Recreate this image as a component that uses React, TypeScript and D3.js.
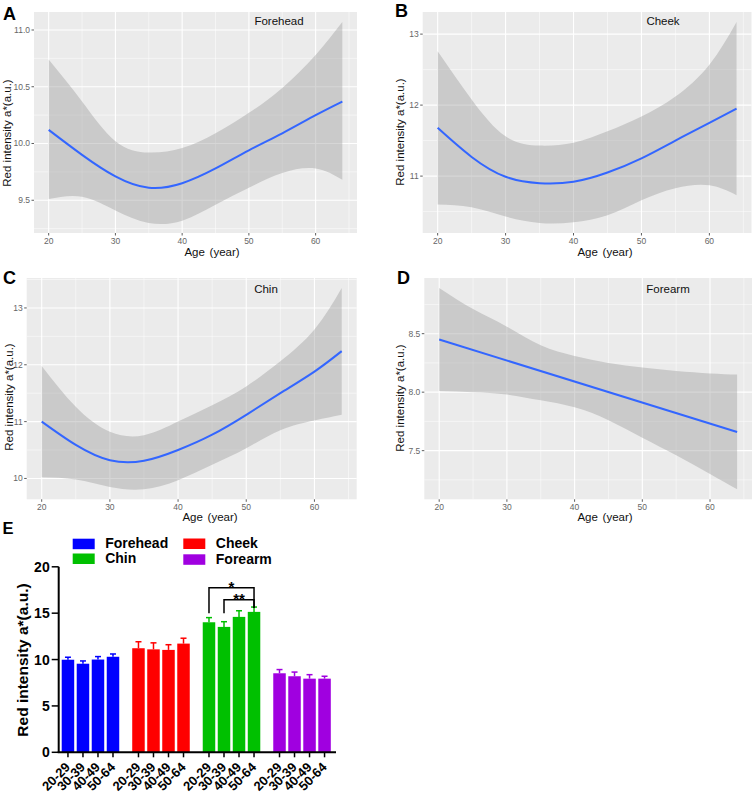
import * as d3 from "d3";

// ---- panels A-D: loess fit + 95% band ----
const AGES = [20, 25, 30, 35, 40, 45, 50, 55, 60, 64];
const X_TICKS = [20, 30, 40, 50, 60];

const FOREHEAD_FIT = [10.12, 9.9, 9.71, 9.61, 9.65, 9.78, 9.94, 10.09, 10.25, 10.37];
const FOREHEAD_LOW = [9.51, 9.53, 9.41, 9.3, 9.32, 9.46, 9.61, 9.74, 9.78, 9.68];
const FOREHEAD_HIGH = [10.74, 10.37, 10.02, 9.92, 9.96, 10.09, 10.27, 10.49, 10.78, 11.07];

const CHEEK_FIT = [11.68, 11.27, 10.99, 10.9, 10.92, 11.05, 11.25, 11.5, 11.75, 11.95];
const CHEEK_LOW = [10.6, 10.56, 10.43, 10.34, 10.35, 10.45, 10.66, 10.83, 10.87, 10.73];
const CHEEK_HIGH = [12.76, 12.08, 11.56, 11.43, 11.47, 11.63, 11.84, 12.12, 12.57, 13.17];

const CHIN_FIT = [11.0, 10.59, 10.32, 10.31, 10.5, 10.77, 11.12, 11.5, 11.88, 12.24];
const CHIN_LOW = [10.02, 9.98, 9.85, 9.81, 9.97, 10.24, 10.53, 10.85, 11.02, 11.12];
const CHIN_HIGH = [11.98, 11.26, 10.82, 10.76, 11.0, 11.29, 11.62, 12.06, 12.62, 13.35];

const FOREARM_FIT_AGES = [20, 64];
const FOREARM_FIT = [8.45, 7.66];
const FOREARM_LOW = [8.01, 8.0, 7.98, 7.93, 7.87, 7.76, 7.61, 7.46, 7.3, 7.17];
const FOREARM_HIGH = [8.89, 8.71, 8.56, 8.4, 8.31, 8.25, 8.21, 8.18, 8.16, 8.15];

// ---- panel E: mean + SEM by site and age group ----
const SITES = ["Forehead", "Cheek", "Chin", "Forearm"];
const AGE_GROUPS = ["20-29", "30-39", "40-49", "50-64"];
const FOREHEAD_MEAN = [9.98, 9.55, 10.0, 10.3];
const FOREHEAD_SEM = [0.27, 0.3, 0.32, 0.3];
const CHEEK_MEAN = [11.22, 11.1, 11.04, 11.72];
const CHEEK_SEM = [0.7, 0.7, 0.56, 0.58];
const CHIN_MEAN = [14.02, 13.52, 14.6, 15.14];
const CHIN_SEM = [0.5, 0.56, 0.66, 0.52];
const FOREARM_MEAN = [8.52, 8.2, 7.94, 7.94];
const FOREARM_SEM = [0.4, 0.45, 0.43, 0.26];
const E_TICKS = [0, 5, 10, 15, 20];

const SITE_COLORS = ["#0000ff", "#ff0000", "#00c000", "#a000e0"];
const FONT = "'Liberation Sans', Arial, sans-serif";

const SMOOTHS = [
  { letter: "A", name: "Forehead", fitAges: AGES, fit: FOREHEAD_FIT, low: FOREHEAD_LOW, high: FOREHEAD_HIGH, yTicks: [9.5, 10, 10.5, 11], fmt: ".1f",
    box: { left: 34, right: 357, top: 12, bottom: 233 }, letterPos: [3, 20], namePos: [279, 25], xTitle: [212, 255.5], yTitle: [7, 133] },
  { letter: "B", name: "Cheek", fitAges: AGES, fit: CHEEK_FIT, low: CHEEK_LOW, high: CHEEK_HIGH, yTicks: [11, 12, 13], fmt: "d",
    box: { left: 422.7, right: 751.5, top: 12, bottom: 233 }, letterPos: [395, 17], namePos: [663, 25], xTitle: [605, 255.5], yTitle: [400, 132] },
  { letter: "C", name: "Chin", fitAges: AGES, fit: CHIN_FIT, low: CHIN_LOW, high: CHIN_HIGH, yTicks: [10, 11, 12, 13], fmt: "d",
    box: { left: 26.7, right: 356.7, top: 278, bottom: 499.3 }, letterPos: [3, 284], namePos: [266, 293], xTitle: [210, 520.5], yTitle: [8.5, 397] },
  { letter: "D", name: "Forearm", fitAges: FOREARM_FIT_AGES, fit: FOREARM_FIT, low: FOREARM_LOW, high: FOREARM_HIGH, yTicks: [7.5, 8, 8.5], fmt: ".1f",
    box: { left: 424.3, right: 752, top: 278, bottom: 499.3 }, letterPos: [397, 284], namePos: [668, 293], xTitle: [605, 520.5], yTitle: [400, 398] },
];

const BARS = [
  { mean: FOREHEAD_MEAN, sem: FOREHEAD_SEM },
  { mean: CHEEK_MEAN, sem: CHEEK_SEM },
  { mean: CHIN_MEAN, sem: CHIN_SEM },
  { mean: FOREARM_MEAN, sem: FOREARM_SEM },
];

// ggplot-style 5% expansion
const expand = ([a, b]: number[]) => {
  const pad = (b - a) * 0.05;
  return [a - pad, b + pad];
};

function SmoothPanel({ p }: { p: any }) {
  const { left, right, top, bottom } = p.box;
  const x = d3.scaleLinear().domain(expand(d3.extent(AGES) as number[])).range([left, right]);
  const yDom = expand([d3.min(p.low) as number, d3.max(p.high) as number]);
  const y = d3.scaleLinear().domain(yDom).range([bottom, top]);

  const xStep = X_TICKS[1] - X_TICKS[0];
  const xMinor = [...X_TICKS.map((t) => t + xStep / 2), X_TICKS[0] - xStep / 2].filter(
    (v) => v >= x.domain()[0] && v <= x.domain()[1]
  );
  const yStep = p.yTicks[1] - p.yTicks[0];
  const yMinor = [p.yTicks[0] - yStep / 2, ...p.yTicks.map((t: number) => t + yStep / 2)].filter(
    (v) => v >= yDom[0] && v <= yDom[1]
  );

  const band = d3
    .area<number>()
    .x((_, i) => x(AGES[i]))
    .y0((_, i) => y(p.low[i]))
    .y1((_, i) => y(p.high[i]))
    .curve(d3.curveNatural);
  const line = d3
    .line<number>()
    .x((_, i) => x(p.fitAges[i]))
    .y((d) => y(d))
    .curve(d3.curveNatural);
  const fmt = d3.format(p.fmt);

  return (
    <g fontFamily={FONT}>
      <rect x={left} y={top} width={right - left} height={bottom - top} fill="#ebebeb" />
      {xMinor.map((v) => (
        <line key={"xm" + v} x1={x(v)} x2={x(v)} y1={top} y2={bottom} stroke="#fff" strokeWidth={0.5} />
      ))}
      {yMinor.map((v) => (
        <line key={"ym" + v} x1={left} x2={right} y1={y(v)} y2={y(v)} stroke="#fff" strokeWidth={0.5} />
      ))}
      {X_TICKS.map((v) => (
        <line key={"xg" + v} x1={x(v)} x2={x(v)} y1={top} y2={bottom} stroke="#fff" strokeWidth={1.1} />
      ))}
      {p.yTicks.map((v: number) => (
        <line key={"yg" + v} x1={left} x2={right} y1={y(v)} y2={y(v)} stroke="#fff" strokeWidth={1.1} />
      ))}
      <path d={band(AGES) ?? ""} fill="#999999" fillOpacity={0.4} />
      <path d={line(p.fit) ?? ""} fill="none" stroke="#3366ff" strokeWidth={2} />

      {X_TICKS.map((v) => (
        <g key={"xt" + v}>
          <line x1={x(v)} x2={x(v)} y1={bottom} y2={bottom + 2.5} stroke="#333" strokeWidth={0.8} />
          <text x={x(v)} y={bottom + 10.7} fontSize={8.5} fill="#666" textAnchor="middle">
            {v}
          </text>
        </g>
      ))}
      {p.yTicks.map((v: number) => (
        <g key={"yt" + v}>
          <line x1={left - 2.5} x2={left} y1={y(v)} y2={y(v)} stroke="#333" strokeWidth={0.8} />
          <text x={left - 4} y={y(v)} dy="0.35em" fontSize={8.5} fill="#666" textAnchor="end">
            {fmt(v)}
          </text>
        </g>
      ))}
      <text x={p.namePos[0]} y={p.namePos[1]} fontSize={11.5} textAnchor="middle" fill="#111">
        {p.name}
      </text>
      <text x={p.xTitle[0]} y={p.xTitle[1]} fontSize={11.5} textAnchor="middle" fill="#111" wordSpacing={1.5}>
        Age (year)
      </text>
      <text
        transform={`translate(${p.yTitle[0]},${p.yTitle[1]}) rotate(-90)`}
        fontSize={11.5}
        textAnchor="middle"
        dominantBaseline="central"
        fill="#111"
      >
        Red intensity a*(a.u.)
      </text>
      <text x={p.letterPos[0]} y={p.letterPos[1]} fontSize={18} fontWeight="bold" fill="#000">
        {p.letter}
      </text>
    </g>
  );
}

function BarPanel() {
  const axisLeft = 58.7;
  const axisRight = 336;
  const y = d3.scaleLinear().domain([0, 20]).range([752.3, 566.8]);
  const outer = d3.scaleBand().domain(SITES).range([61.7, 330.8]).paddingInner(0.184).paddingOuter(0);
  const inner = d3.scaleBand().domain(AGE_GROUPS).range([0, outer.bandwidth()]).paddingInner(0.167).paddingOuter(0);
  const bw = inner.bandwidth();
  const cx = (s: number, g: number) => (outer(SITES[s]) ?? 0) + (inner(AGE_GROUPS[g]) ?? 0) + bw / 2;

  // significance brackets on the Chin group
  const chin = 2;
  const brackets = [
    { from: 0, to: 3, level: 17.75, legLeft: 15.0, label: "*" },
    { from: 1, to: 3, level: 16.45, legLeft: 15.0, label: "**" },
  ];
  const rightLeg = CHIN_MEAN[3] + CHIN_SEM[3] - 0.1;

  const legend = [
    { site: 0, x: 72.7, y: 538.7 },
    { site: 1, x: 183.3, y: 538.5 },
    { site: 2, x: 72.7, y: 553.5 },
    { site: 3, x: 183.3, y: 554.3 },
  ];

  return (
    <g fontFamily={FONT} fontWeight="bold">
      <text x={2.5} y={533.5} fontSize={16.5}>
        E
      </text>
      {legend.map((l) => (
        <g key={l.site}>
          <rect x={l.x} y={l.y} width={22} height={10.5} fill={SITE_COLORS[l.site]} />
          <text x={l.x + 32.5} y={l.y + 9.6} fontSize={14}>
            {SITES[l.site]}
          </text>
        </g>
      ))}

      {BARS.map((b, s) =>
        b.mean.map((m, g) => {
          const x0 = cx(s, g);
          const topV = m + b.sem[g];
          return (
            <g key={s + "-" + g}>
              <rect x={x0 - bw / 2} y={y(m)} width={bw} height={y(0) - y(m)} fill={SITE_COLORS[s]} />
              <line x1={x0} x2={x0} y1={y(m)} y2={y(topV)} stroke={SITE_COLORS[s]} strokeWidth={1.5} />
              <line x1={x0 - 3} x2={x0 + 3} y1={y(topV)} y2={y(topV)} stroke={SITE_COLORS[s]} strokeWidth={1.5} />
            </g>
          );
        })
      )}

      {brackets.map((br) => {
        const x1 = cx(chin, br.from);
        const x2 = cx(chin, br.to);
        return (
          <g key={br.label}>
            <path
              d={`M${x1},${y(br.legLeft)}V${y(br.level)}H${x2}V${y(rightLeg)}`}
              fill="none"
              stroke="#000"
              strokeWidth={1.5}
            />
            <text x={(x1 + x2) / 2} y={y(br.level) + 4.5} fontSize={15} textAnchor="middle">
              {br.label}
            </text>
          </g>
        );
      })}

      <line x1={axisLeft} x2={axisLeft} y1={y(20)} y2={y(0)} stroke="#000" strokeWidth={2} />
      <line x1={axisLeft - 1} x2={axisRight} y1={y(0)} y2={y(0)} stroke="#000" strokeWidth={2} />
      {E_TICKS.map((v) => (
        <g key={v}>
          <line x1={axisLeft - 7} x2={axisLeft} y1={y(v)} y2={y(v)} stroke="#000" strokeWidth={1.5} />
          <text x={axisLeft - 9} y={y(v)} dy="0.36em" fontSize={14} textAnchor="end">
            {v}
          </text>
        </g>
      ))}
      <text transform="translate(22,660) rotate(-90)" fontSize={15.5} textAnchor="middle" dominantBaseline="central">
        Red intensity a*(a.u.)
      </text>

      {SITES.map((_, s) =>
        AGE_GROUPS.map((lab, g) => {
          const x0 = cx(s, g);
          return (
            <g key={"xl" + s + g}>
              <line x1={x0} x2={x0} y1={y(0)} y2={y(0) + 5} stroke="#000" strokeWidth={1.5} />
              <text transform={`translate(${x0 + 3},${768}) rotate(-45)`} fontSize={13} textAnchor="end">
                {lab}
              </text>
            </g>
          );
        })
      )}
    </g>
  );
}

export default function App() {
  return (
    <svg width={753} height={797} style={{ position: "absolute", left: 0, top: 0, background: "#fff" }}>
      {SMOOTHS.map((p) => (
        <SmoothPanel key={p.letter} p={p} />
      ))}
      <BarPanel />
    </svg>
  );
}
